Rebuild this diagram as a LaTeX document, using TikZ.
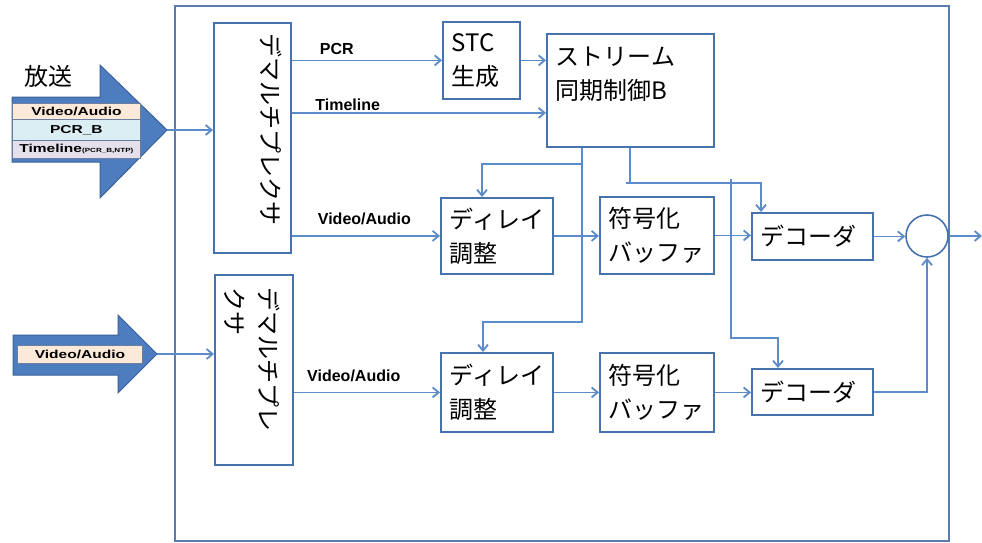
\documentclass[tikz,border=0pt]{standalone}
\usepackage{fontspec}
\setmainfont{Liberation Sans}
\newfontfamily\jp{Noto Sans CJK JP}
\usepackage{tikz}
\usetikzlibrary{positioning}
\usetikzlibrary{arrows.meta}
\usepackage{xcolor}
\definecolor{edgeblue}{HTML}{4672AE}
\definecolor{lineblue}{HTML}{5B8BC9}
\definecolor{framecol}{HTML}{5A7BAE}
\definecolor{arrowfill}{HTML}{4E7DBF}
\definecolor{arrowdraw}{HTML}{3A6199}
\definecolor{bardraw}{HTML}{6A7FA0}
\definecolor{peach}{HTML}{FDE9D9}
\definecolor{paleblue}{HTML}{DAEEF3}
\definecolor{lavender}{HTML}{E5E0EC}

\begin{document}
\begin{tikzpicture}[x=1pt, y=-1pt, >={Straight Barb[length=6pt,width=10pt]}]
\tikzstyle{blk}=[draw=edgeblue, line width=1.8pt, fill=white, anchor=north west, inner xsep=9pt, inner ysep=0pt, align=left, font=\jp\fontsize{24}{34}\selectfont]
\tikzstyle{vtxt}=[rotate=-90, anchor=north west, inner sep=0pt, align=left, font=\jp\fontsize{24}{34}\selectfont]
\tikzstyle{conn}=[draw=lineblue, line width=1.8pt, ->]
\tikzstyle{lbl}=[font=\bfseries\fontsize{16}{16}\selectfont, inner sep=1pt]
\tikzstyle{bar}=[draw=bardraw, line width=0.8pt, anchor=north west, minimum width=128pt, inner sep=0pt, font=\bfseries\fontsize{11.5}{11.5}\selectfont]
\tikzstyle{bigarrow}=[fill=arrowfill, draw=arrowdraw, line width=1pt]
\useasboundingbox (0,0) rectangle (982,542);

\draw[framecol, line width=1.6pt] (175,6) rectangle (949,541);

\draw[bigarrow] (12,97) -- (100,97) -- (100,65) -- (167,130) -- (100,198) -- (100,162) -- (12,162) -- cycle;
\coordinate (bcastTip) at (167,130);
\node[bar, fill=peach, minimum height=16pt] (barVA) at (12,103) {\scalebox{1.35}[1]{Video/Audio}};
\node[bar, fill=paleblue, minimum height=21pt] (barPCR) at (12,119) {\scalebox{1.35}[1]{PCR\_B}};
\node[bar, fill=lavender, minimum height=18pt] (barTL) at (12,140) {\scalebox{1.35}[1]{Timeline{\fontsize{6}{6}\selectfont(PCR\_B,NTP)}}};
\node[font=\jp\fontsize{24}{24}\selectfont, inner sep=0pt] (bcastLbl) at (48,76) {放送};

\draw[bigarrow] (13,335) -- (118,335) -- (118,315) -- (157,354) -- (118,393) -- (118,375) -- (13,375) -- cycle;
\coordinate (netTip) at (157,354);
\node[bar, fill=peach, minimum height=18pt, minimum width=125pt] (barVB) at (17,345) {\scalebox{1.35}[1]{Video/Audio}};

\node[blk, minimum width=77pt, minimum height=230pt] (demuxA) at (213,22) {};
\node[vtxt] (demuxAtxt) at ([xshift=-10pt,yshift=-11pt]demuxA.north east) {デマルチプレクサ};
\node[blk, minimum width=78pt, minimum height=190pt] (demuxB) at (214,274) {};
\node[vtxt] (demuxBtxt) at ([xshift=-14pt,yshift=-13pt]demuxB.north east) {デマルチプレ\\クサ};

\node[blk, text width=59pt, minimum height=77pt] (stc) at (442,21) {STC\\生成};
\node[blk, text width=149pt, minimum height=113pt] (sync) at (546,33) {ストリーム\\同期制御B\\\mbox{}};
\node[blk, text width=94pt, minimum height=76pt] (delayA) at (440,197) {ディレイ\\調整};
\node[blk, text width=96pt, minimum height=77pt] (bufA) at (599,196) {符号化\\バッファ};
\node[blk, text width=103pt, minimum height=47pt] (decA) at (751,212) {デコーダ};
\node[blk, text width=94pt, minimum height=79pt] (delayB) at (440,352) {ディレイ\\調整};
\node[blk, text width=96pt, minimum height=79pt] (bufB) at (599,352) {符号化\\バッファ};
\node[blk, text width=103pt, minimum height=46pt] (decB) at (751,368) {デコーダ};
\node[circle, draw=edgeblue, line width=1.6pt, minimum size=42pt, inner sep=0pt] (sum) at (927,236) {};
\coordinate (outA) at (982,236);

\draw[conn] (bcastTip) -- (bcastTip -| demuxA.west);
\draw[conn] (netTip) -- (netTip -| demuxB.west);

\draw[conn] (stc.west -| demuxA.east) -- node[lbl, pos=0.3, above=4pt] (pcrLbl) {PCR} (stc.west);
\draw[conn] (stc.east) -- (stc.east -| sync.west);
\coordinate (tlEnd) at ([yshift=-22.5pt]sync.west);
\draw[conn] (tlEnd -| demuxA.east) -- node[lbl, pos=0.22, above] (tlLbl) {Timeline} (tlEnd);
\draw[conn] (delayA.west -| demuxA.east) -- node[lbl, pos=0.49, above=9pt] (vaLblA) {Video/Audio} (delayA.west);
\draw[conn] (delayB.west -| demuxB.east) -- node[lbl, pos=0.41, above=9pt] (vaLblB) {Video/Audio} (delayB.west);

\draw[conn] (delayA.east) -- (delayA.east -| bufA.west);
\draw[conn] (bufA.east) -- (bufA.east -| decA.west);
\draw[conn] (decA.east) -- (decA.east -| sum.west);
\draw[conn] (sum.east) -- (outA);
\draw[conn] (delayB.east) -- (delayB.east -| bufB.west);
\draw[conn] (bufB.east) -- (bufB.east -| decB.west);
\draw[conn] (decB.east) -| (sum.south);

\draw[conn] ([xshift=36pt]sync.south west) -- ++(0,174) -| ([xshift=43pt]delayB.north west);
\draw[conn] ([xshift=36pt,yshift=-16pt]sync.south west) -| ([xshift=42pt]delayA.north west);
\draw[conn] ([xshift=84pt]sync.south west) -- ++(0,35) coordinate (j1) -| ([xshift=10pt]decA.north west);
\draw[lineblue, line width=1.8pt] ([xshift=-4pt]j1) -- (j1);
\draw[conn] ([xshift=101pt,yshift=4pt]j1) -- ++(0,159) -| ([xshift=27pt]decB.north west);
\end{tikzpicture}
\end{document}
